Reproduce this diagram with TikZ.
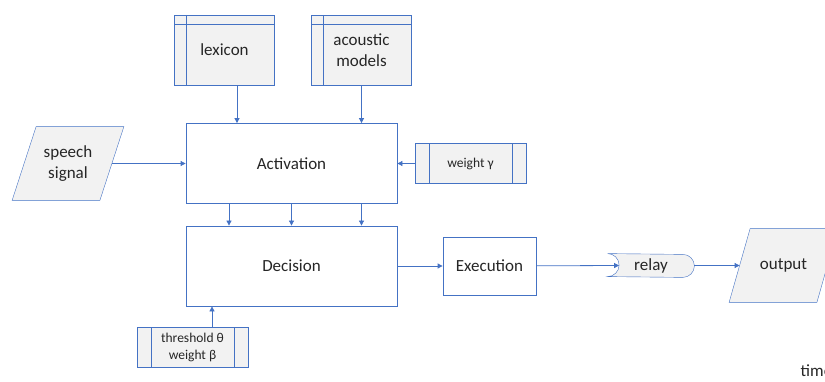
\documentclass[tikz,border=0pt]{standalone}
\usepackage{fontspec}
\setmainfont{Carlito}
\usetikzlibrary{arrows.meta}
\usetikzlibrary{backgrounds}

\definecolor{edge}{HTML}{4472C4}
\definecolor{shade}{HTML}{F2F2F2}
\definecolor{ink}{HTML}{262626}

\begin{document}
\begin{tikzpicture}[x=1pt, y=-1pt, line width=0.8pt, text=ink,
	font=\fontsize{17}{21}\selectfont,
	proc/.style={draw=edge, fill=white, minimum width=211, minimum height=80},
	store/.style={draw=edge, fill=shade, align=center, minimum width=100, minimum height=70,
		path picture={
			\draw[edge] ([xshift=12pt]path picture bounding box.north west) -- ([xshift=12pt]path picture bounding box.south west);
			\draw[edge] ([yshift=-9pt]path picture bounding box.north west) -- ([yshift=-9pt]path picture bounding box.north east);
		}},
	predef/.style={draw=edge, fill=shade, align=center, minimum width=111, minimum height=40,
		font=\fontsize{13.5}{17.5}\selectfont,
		path picture={
			\draw[edge] ([xshift=14pt]path picture bounding box.north west) -- ([xshift=14pt]path picture bounding box.south west);
			\draw[edge] ([xshift=-14pt]path picture bounding box.north east) -- ([xshift=-14pt]path picture bounding box.south east);
		}},
	io/.style={align=center, minimum width=87, minimum height=73},
	arr/.style={draw=edge, -{Triangle[length=5pt,width=5pt]}}]
	\useasboundingbox (0,0) rectangle (825,382);

	\node[store] (lexicon) at (224.5, 50) {lexicon};
	\node[store] (acoustic) at (361.5, 50) {acoustic\\models};
	\node[proc] (activation) at (291.5, 163.5) {Activation};
	\node[proc] (decision) at (291.5, 266) {Decision};
	\node[io] (speech) at (68, 163.5) {speech\\signal};
	\node[predef] (weight) at (470.5, 163.5) {weight γ};
	\node[predef] (threshold) at (192.5, 347.5) {threshold θ\\weight β};
	\node[proc, minimum width=93, minimum height=58] (execution) at (489.5, 266) {Execution};
	\node[minimum width=86, minimum height=23, inner sep=1pt] (relay) at (651, 265.5) {relay};
	\node[io] (output) at (783.5, 265.5) {output};
	\node[anchor=base west] (time) at (797, 376) {time};

	% slanted input/output boxes and the relay outline
	\begin{scope}[on background layer]
		\foreach \n/\s in {speech/12, output/10.5}
			\draw[edge, fill=shade] ([xshift=-\s]\n.south west) -- ([xshift=\s]\n.north west)
				-- ([xshift=\s]\n.north east) -- ([xshift=-\s]\n.south east) -- cycle;
		\draw[edge, fill=shade] (relay.north west) arc (90:-90:11.5pt)
			-- ([xshift=-11.5pt]relay.south east) arc (-90:90:11.5pt) -- cycle;
	\end{scope}

	\draw[arr] ([xshift=12.5]lexicon.south) -- ([xshift=12.5]lexicon.south |- activation.north);
	\draw[arr] (acoustic.south) -- (acoustic.south |- activation.north);
	\draw[arr] (speech) -- (activation);
	\draw[arr] (weight) -- (activation);
	\foreach \dx in {-62.5, 0, 70}
		\draw[arr] ([xshift=\dx]activation.south) -- ([xshift=\dx]decision.north);
	\draw[arr] ([xshift=19.5]threshold.north) -- ([xshift=19.5]threshold.north |- decision.south);
	\draw[arr] (decision) -- (execution);
	\draw[arr] (execution) -- ([xshift=11.5pt]relay.west);
	\draw[arr] (relay) -- (output);
\end{tikzpicture}
\end{document}
